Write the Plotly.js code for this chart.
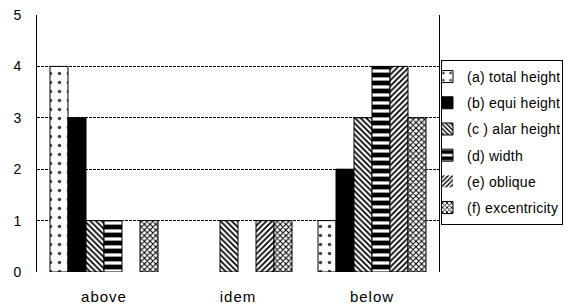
<!DOCTYPE html>
<html>
<head>
<meta charset="utf-8">
<script src="https://cdn.plot.ly/plotly-3.0.1.min.js"></script>
<style>
html,body{margin:0;padding:0;background:#fff;}
#chart{width:579px;height:305px;}
#chart .legendtext { letter-spacing: 0.25px; }
#chart .xtick text { letter-spacing: 1px; }
</style>
</head>
<body>
<div id="chart"></div>
<script>
const categories = ["above", "idem", "below"];
const seriesNames = ["(a) total height", "(b) equi height", "(c ) alar height", "(d) width", "(e) oblique", "(f) excentricity"];
const totalHeight = [4, 0, 1];
const equiHeight = [3, 0, 2];
const alarHeight = [1, 1, 3];
const widthVals = [1, 0, 4];
const oblique = [0, 1, 4];
const excentricity = [1, 1, 3];
const yTicks = [0, 1, 2, 3, 4, 5];

const seriesValues = [totalHeight, equiHeight, alarHeight, widthVals, oblique, excentricity];
const patterns = [
  {shape: ".", size: 9, solidity: 0.12, fgcolor: "#444", bgcolor: "#fff"},
  {shape: "", fgcolor: "#000", bgcolor: "#000"},
  {shape: "\\", size: 4, solidity: 0.45, fgcolor: "#000", bgcolor: "#fff"},
  {shape: "-", size: 8, solidity: 0.6, fgcolor: "#000", bgcolor: "#fff"},
  {shape: "/", size: 4, solidity: 0.45, fgcolor: "#000", bgcolor: "#fff"},
  {shape: "x", size: 4, solidity: 0.45, fgcolor: "#000", bgcolor: "#fff"}
];
const fills = ["#fff", "#000", "#fff", "#fff", "#fff", "#fff"];

const traces = seriesNames.map((name, i) => ({
  type: "bar",
  name: name,
  x: categories,
  y: seriesValues[i],
  legendgroup: "g" + i,
  marker: {
    color: fills[i],
    line: {color: "#000", width: seriesValues[i].map(v => v > 0 ? 1 : 0)},
    pattern: patterns[i]
  },
  hoverinfo: "skip"
}));

const layout = {
  width: 579,
  height: 305,
  margin: {l: 37, r: 140, t: 15, b: 33, autoexpand: false},
  paper_bgcolor: "#fff",
  plot_bgcolor: "#fff",
  font: {family: "Liberation Sans, Arial, sans-serif", size: 14, color: "#000"},
  barmode: "group",
  bargap: 0.194,
  bargroupgap: 0,
  showlegend: true,
  legend: {
    x: 1.005, xanchor: "left",
    y: 0.825, yanchor: "top",
    bordercolor: "#000", borderwidth: 1,
    bgcolor: "#fff",
    font: {size: 14, family: "Liberation Sans, Arial, sans-serif"},
    tracegroupgap: 5,
    traceorder: "grouped",
    itemwidth: 30,
    indentation: -15
  },
  xaxis: {
    type: "category",
    showline: false,
    showgrid: false,
    zeroline: false,
    ticks: "",
    ticklabelstandoff: 14,
    tickfont: {size: 15}
  },
  yaxis: {
    range: [0, 5],
    tickvals: yTicks,
    ticktext: yTicks.map(String),
    showline: true,
    linecolor: "#000",
    linewidth: 1,
    mirror: true,
    showgrid: true,
    gridcolor: "#000",
    gridwidth: 1,
    griddash: "3px,1px",
    zeroline: false,
    ticks: "",
    ticklabelstandoff: 12,
    tickfont: {size: 14}
  }
};

Plotly.newPlot("chart", traces, layout, {displayModeBar: false, staticPlot: true});
</script>
</body>
</html>
